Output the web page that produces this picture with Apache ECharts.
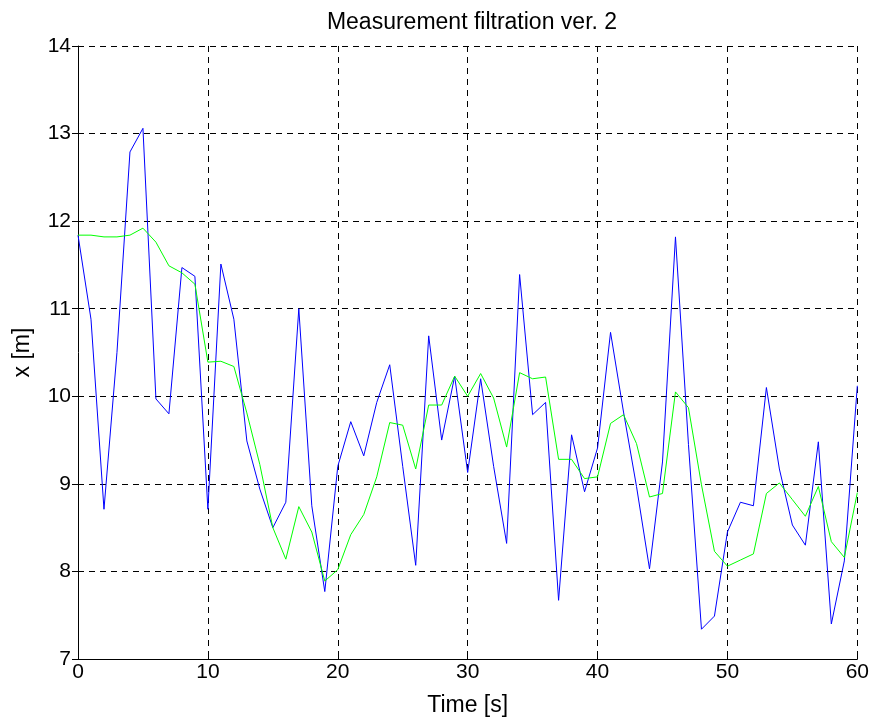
<!DOCTYPE html>
<html>
<head>
<meta charset="utf-8">
<title>Measurement filtration ver. 2</title>
<script src="https://cdn.jsdelivr.net/npm/echarts@6/dist/echarts.min.js"></script>
<style>
  html, body { margin: 0; padding: 0; background: #fff; }
  #main { width: 872px; height: 722px; }
</style>
</head>
<body>
<div id="main"></div>
<script>
// time axis in seconds
var time = [];
for (var i = 0; i <= 60; i++) time.push(i);

// raw measurement (blue)
var measured = [
  11.84, 10.88, 8.71, 10.5, 12.79, 13.06, 9.97, 9.8, 11.47, 11.37,
  8.71, 11.51, 10.88, 9.49, 8.94, 8.50, 8.79, 11.0, 8.75, 7.77,
  9.20, 9.71, 9.32, 9.93, 10.36, 9.2, 8.07, 10.69, 9.50, 10.23,
  9.13, 10.20, 9.20, 8.32, 11.39, 9.79, 9.93, 7.67, 9.56, 8.91,
  9.41, 10.73, 9.82, 8.97, 8.03, 9.25, 11.82, 9.45, 7.34, 7.49,
  8.45, 8.79, 8.75, 10.10, 9.17, 8.53, 8.30, 9.48, 7.40, 8.12,
  10.12
];

// filtered estimate (green)
var filtered = [
  11.84, 11.84, 11.82, 11.82, 11.84, 11.92, 11.76, 11.49, 11.41, 11.28,
  10.39, 10.40, 10.34, 9.81, 9.22, 8.50, 8.14, 8.74, 8.45, 7.89,
  8.02, 8.42, 8.65, 9.08, 9.70, 9.67, 9.17, 9.90, 9.90, 10.23,
  10.0, 10.26, 9.98, 9.42, 10.27, 10.20, 10.22, 9.28, 9.28, 9.06,
  9.08, 9.69, 9.79, 9.46, 8.85, 8.89, 10.05, 9.87, 8.99, 8.23,
  8.06, 8.13, 8.20, 8.89, 9.01, 8.82, 8.63, 8.97, 8.34, 8.16,
  8.90
];

function pairs(ys) {
  return time.map(function (t, k) { return [t, ys[k]]; });
}

var font = 'Liberation Sans, Arial, Helvetica, sans-serif';
var grid = { color: '#000', type: [6, 5], width: 1 };

var chart = echarts.init(document.getElementById('main'));
chart.setOption({
  animation: false,
  backgroundColor: '#ffffff',
  title: {
    text: 'Measurement filtration ver. 2',
    left: 467,
    textAlign: 'center',
    top: 6,
    textStyle: { fontFamily: font, fontSize: 23, fontWeight: 'normal', color: '#000' }
  },
  grid: { left: 78, right: 14, top: 46, bottom: 62 },
  xAxis: [
    {
      type: 'value',
      min: 0,
      max: 60,
      interval: 10,
      name: 'Time [s]',
      nameLocation: 'middle',
      nameGap: 35,
      nameTextStyle: { fontFamily: font, fontSize: 23, color: '#000' },
      axisLine: { show: true, lineStyle: { color: '#000', width: 1 } },
      axisTick: { show: true, inside: true, length: 6, lineStyle: { color: '#000' } },
      axisLabel: { fontFamily: font, fontSize: 21, color: '#000', margin: 3 },
      splitLine: { show: true, lineStyle: grid }
    },
    {
      // top edge: ticks only, like the plot it copies
      type: 'value',
      position: 'top',
      min: 0,
      max: 60,
      interval: 10,
      axisLine: { show: false },
      axisTick: { show: true, inside: true, length: 6, lineStyle: { color: '#000' } },
      axisLabel: { show: false },
      splitLine: { show: false }
    }
  ],
  yAxis: [
    {
      type: 'value',
      min: 7,
      max: 14,
      interval: 1,
      name: 'x [m]',
      nameLocation: 'middle',
      nameGap: 44,
      nameTextStyle: { fontFamily: font, fontSize: 23, color: '#000' },
      axisLine: { show: true, lineStyle: { color: '#000', width: 1 } },
      axisTick: { show: true, inside: true, length: 6, lineStyle: { color: '#000' } },
      axisLabel: { fontFamily: font, fontSize: 21, color: '#000', margin: 7 },
      splitLine: { show: true, lineStyle: grid }
    },
    {
      type: 'value',
      position: 'right',
      min: 7,
      max: 14,
      interval: 1,
      axisLine: { show: false },
      axisTick: { show: true, inside: true, length: 6, lineStyle: { color: '#000' } },
      axisLabel: { show: false },
      splitLine: { show: false }
    }
  ],
  series: [
    {
      name: 'measurement',
      type: 'line',
      data: pairs(measured),
      showSymbol: false,
      lineStyle: { color: '#0000ff', width: 1 },
      itemStyle: { color: '#0000ff' }
    },
    {
      name: 'filtered',
      type: 'line',
      data: pairs(filtered),
      showSymbol: false,
      lineStyle: { color: '#00ff00', width: 1 },
      itemStyle: { color: '#00ff00' }
    }
  ]
});
</script>
</body>
</html>
